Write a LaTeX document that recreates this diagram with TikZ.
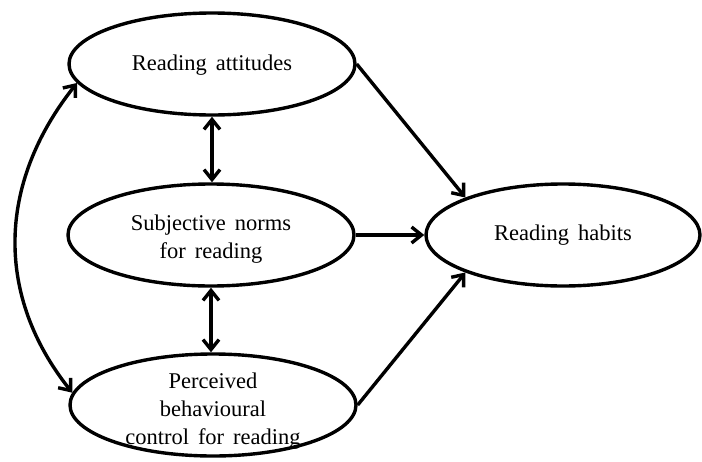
\documentclass[tikz,border=0pt]{standalone}
\usepackage{fontspec}
\setmainfont{Liberation Serif}
\usetikzlibrary{arrows.meta,shapes.geometric}
\newcommand{\widesp}{\spaceskip=0.4em plus 0.1em\relax}
\begin{document}
\begin{tikzpicture}[x=1pt,y=-1pt,
  latent/.style={draw, ellipse, line width=3.4pt, inner sep=0pt, minimum width=286pt, minimum height=102pt},
  lbl/.style={align=center, inner sep=0pt, font=\fontsize{22.5}{28}\selectfont\widesp},
  vtip/.tip={Straight Barb[length=10pt,width=16pt]},
  conn/.style={line width=3.4pt, -{vtip}},
  biconn/.style={line width=3.4pt, {vtip}-{vtip}}]
\useasboundingbox (0,0) rectangle (702,461);
\node[latent] (att) at (212,64) {};
\node[latent] (norm) at (211,235) {};
\node[latent] (pbc) at (213,405) {};
\node[latent, minimum width=274pt] (hab) at (563,235) {};
\node[lbl] (attT) at ([yshift=-1pt]att) {Reading attitudes};
\node[lbl] (normT) at ([yshift=-4pt]norm) {Subjective norms\\for reading};
\node[lbl] (pbcT) at ([yshift=-6pt]pbc) {Perceived\\behavioural\\control for reading};
\node[lbl] (habT) at (hab) {Reading habits};
\draw[conn] (att.east) -- (hab.159);
\draw[conn] (norm.east) -- (hab.west);
\draw[conn] (pbc.east) -- (hab.201);
\draw[biconn] (att.south) -- (att.south |- norm.north);
\draw[biconn] (norm.south) -- (norm.south |- pbc.north);
\draw[biconn] (att.188) .. controls (-4,185) and (-4,297) .. (pbc.175);
\end{tikzpicture}
\end{document}
